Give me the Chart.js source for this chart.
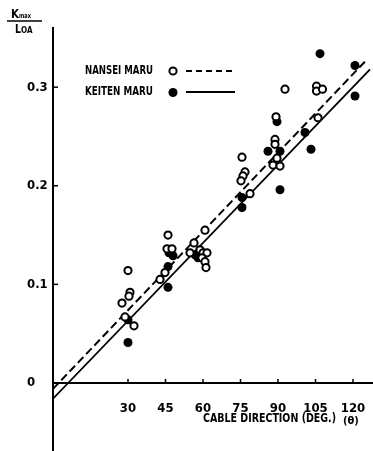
<!DOCTYPE html>
<html><head><meta charset="utf-8">
<script src="https://cdn.jsdelivr.net/npm/chart.js@4"></script>
<style>html,body{margin:0;padding:0;background:#fff}#wrap{width:373px;height:451px}</style>
</head><body><div id="wrap"><canvas id="c" width="373" height="451"></canvas></div>
<script>
const FONT = "'DejaVu Sans Condensed','Liberation Sans Narrow',sans-serif";

const xTickValues = [30, 45, 60, 75, 90, 105, 120];
const yTickValues = [0, 0.1, 0.2, 0.3];
const yTickLabels = ['0', '0.1', '0.2', '0.3'];

const seriesNames = ['NANSEI MARU', 'KEITEN MARU'];
const xTitle = 'CABLE DIRECTION (DEG.)';
const xTitleSymbol = '(θ)';

// NANSEI MARU (open circles)
const nanseiAngle = [30.0, 30.8, 30.4, 27.6, 28.8, 32.4,
  46.0, 45.6, 47.6, 44.8, 42.8,
  56.4, 60.8, 54.8, 58.8, 60.0, 61.6, 59.6, 60.8, 61.2,
  75.6, 76.8, 76.0, 75.2, 78.8,
  92.8, 89.2, 88.8, 88.8, 89.6, 88.0, 90.8,
  105.4, 105.4, 107.8, 106.0];
const nanseiRatio = [0.114, 0.092, 0.088, 0.081, 0.067, 0.058,
  0.150, 0.136, 0.136, 0.112, 0.105,
  0.142, 0.155, 0.132, 0.135, 0.132, 0.132, 0.127, 0.123, 0.117,
  0.229, 0.214, 0.210, 0.205, 0.192,
  0.298, 0.270, 0.247, 0.242, 0.228, 0.221, 0.220,
  0.301, 0.296, 0.298, 0.269];

// KEITEN MARU (filled circles)
const keitenAngle = [30.0, 30.0,
  46.4, 48.0, 46.0, 46.0,
  56.8, 58.0,
  75.6, 75.6,
  89.6, 86.0, 90.8, 90.8,
  100.8, 103.2, 106.8, 120.8, 120.8];
const keitenRatio = [0.064, 0.041,
  0.132, 0.129, 0.118, 0.097,
  0.130, 0.127,
  0.188, 0.178,
  0.265, 0.235, 0.235, 0.196,
  0.254, 0.237, 0.334, 0.322, 0.291];

// Fitted lines
const nanseiFitAngle = [0, 124.8];
const nanseiFitRatio = [-0.006, 0.326];
const keitenFitAngle = [0, 126.8];
const keitenFitRatio = [-0.016, 0.318];

const pts = (xs, ys) => xs.map((x, i) => ({x: x, y: ys[i]}));

function fitText(ctx, text, x, y, width) {
  const w = ctx.measureText(text).width;
  const k = Math.min(1, width / w);
  ctx.save();
  ctx.translate(x, y);
  ctx.scale(k, 1);
  ctx.fillText(text, 0, 0);
  ctx.restore();
}

const decor = {
  id: 'decor',
  afterDraw(chart) {
    const {ctx, scales: {x, y}} = chart;
    const x0 = x.getPixelForValue(0), y0 = y.getPixelForValue(0);
    ctx.save();
    ctx.strokeStyle = '#000'; ctx.fillStyle = '#000'; ctx.lineWidth = 1.5;
    // tick stubs
    xTickValues.forEach(v => {
      const px = x.getPixelForValue(v);
      ctx.beginPath(); ctx.moveTo(px, y0); ctx.lineTo(px, y0 - 4); ctx.stroke();
    });
    yTickValues.filter(v => v !== 0).forEach(v => {
      const py = y.getPixelForValue(v);
      ctx.beginPath(); ctx.moveTo(x0, py); ctx.lineTo(x0 + 5, py); ctx.stroke();
    });
    // y title: Kmax / LOA
    ctx.textBaseline = 'alphabetic'; ctx.textAlign = 'left';
    ctx.font = 'bold 12px ' + FONT;
    fitText(ctx, 'K', 11, 18, 8);
    ctx.font = 'bold 7px ' + FONT;
    fitText(ctx, 'max', 19, 18, 12);
    ctx.lineWidth = 1.5;
    ctx.beginPath(); ctx.moveTo(7, 21); ctx.lineTo(42, 21); ctx.stroke();
    ctx.font = 'bold 12px ' + FONT;
    fitText(ctx, 'L', 15, 33, 6);
    ctx.font = 'bold 8px ' + FONT;
    fitText(ctx, 'OA', 21, 33, 12);
    // x title
    ctx.textBaseline = 'middle';
    ctx.font = 'bold 13px ' + FONT;
    fitText(ctx, xTitle, 203, 419, 133);
    ctx.font = 'bold 11px ' + FONT;
    fitText(ctx, xTitleSymbol, 343, 421, 18);
    // legend
    ctx.font = 'bold 13px ' + FONT;
    fitText(ctx, seriesNames[0], 85, 71, 68);
    fitText(ctx, seriesNames[1], 85, 92, 68);
    ctx.lineWidth = 2;
    ctx.beginPath(); ctx.arc(173, 71, 3.6, 0, Math.PI * 2);
    ctx.fillStyle = '#fff'; ctx.fill(); ctx.stroke();
    ctx.fillStyle = '#000';
    ctx.beginPath(); ctx.arc(173, 92.5, 4.5, 0, Math.PI * 2); ctx.fill();
    ctx.setLineDash([6, 4]);
    ctx.beginPath(); ctx.moveTo(186, 71); ctx.lineTo(235, 71); ctx.stroke();
    ctx.setLineDash([]);
    ctx.lineWidth = 1.8;
    ctx.beginPath(); ctx.moveTo(186, 92); ctx.lineTo(235, 92); ctx.stroke();
    ctx.restore();
  }
};

new Chart(document.getElementById('c'), {
  type: 'scatter',
  data: {
    datasets: [
      {label: seriesNames[0], data: pts(nanseiAngle, nanseiRatio), order: 0,
       pointStyle: 'circle', pointRadius: 3.6, pointBorderWidth: 2,
       pointBackgroundColor: '#fff', pointBorderColor: '#000'},
      {label: seriesNames[1], data: pts(keitenAngle, keitenRatio), order: 0,
       pointStyle: 'circle', pointRadius: 4.5, pointBorderWidth: 0,
       pointBackgroundColor: '#000', pointBorderColor: '#000'},
      {label: seriesNames[0] + ' fit', data: pts(nanseiFitAngle, nanseiFitRatio), order: 2,
       showLine: true, pointRadius: 0, borderColor: '#000', borderWidth: 2, borderDash: [8, 4]},
      {label: seriesNames[1] + ' fit', data: pts(keitenFitAngle, keitenFitRatio), order: 2,
       showLine: true, pointRadius: 0, borderColor: '#000', borderWidth: 1.8}
    ]
  },
  options: {
    responsive: false, animation: false, devicePixelRatio: 1,
    layout: {autoPadding: false, padding: {left: 27, top: 28, right: 0, bottom: 0}},
    plugins: {legend: {display: false}, tooltip: {enabled: false}},
    scales: {
      x: {
        type: 'linear', min: 0, max: 128, position: {y: 0},
        afterBuildTicks: s => { s.ticks = xTickValues.map(v => ({value: v})); },
        afterFit: s => { s.paddingLeft = 0; s.paddingRight = 0; },
        grid: {display: false},
        border: {display: true, color: '#000', width: 2},
        ticks: {color: '#000', font: {family: FONT, size: 13, weight: 'bold'},
                padding: 10, maxRotation: 0, autoSkip: false}
      },
      y: {
        type: 'linear', min: -0.069, max: 0.36,
        afterBuildTicks: s => { s.ticks = yTickValues.map(v => ({value: v})); },
        afterFit: s => { s.width = 26; s.paddingTop = 0; s.paddingBottom = 0; },
        grid: {display: false},
        border: {display: true, color: '#000', width: 2},
        ticks: {color: '#000', font: {family: FONT, size: 13, weight: 'bold'},
                crossAlign: 'far', padding: 0,
                callback: (v, i) => yTickLabels[i]}
      }
    }
  },
  plugins: [decor]
});
</script>
</body></html>
